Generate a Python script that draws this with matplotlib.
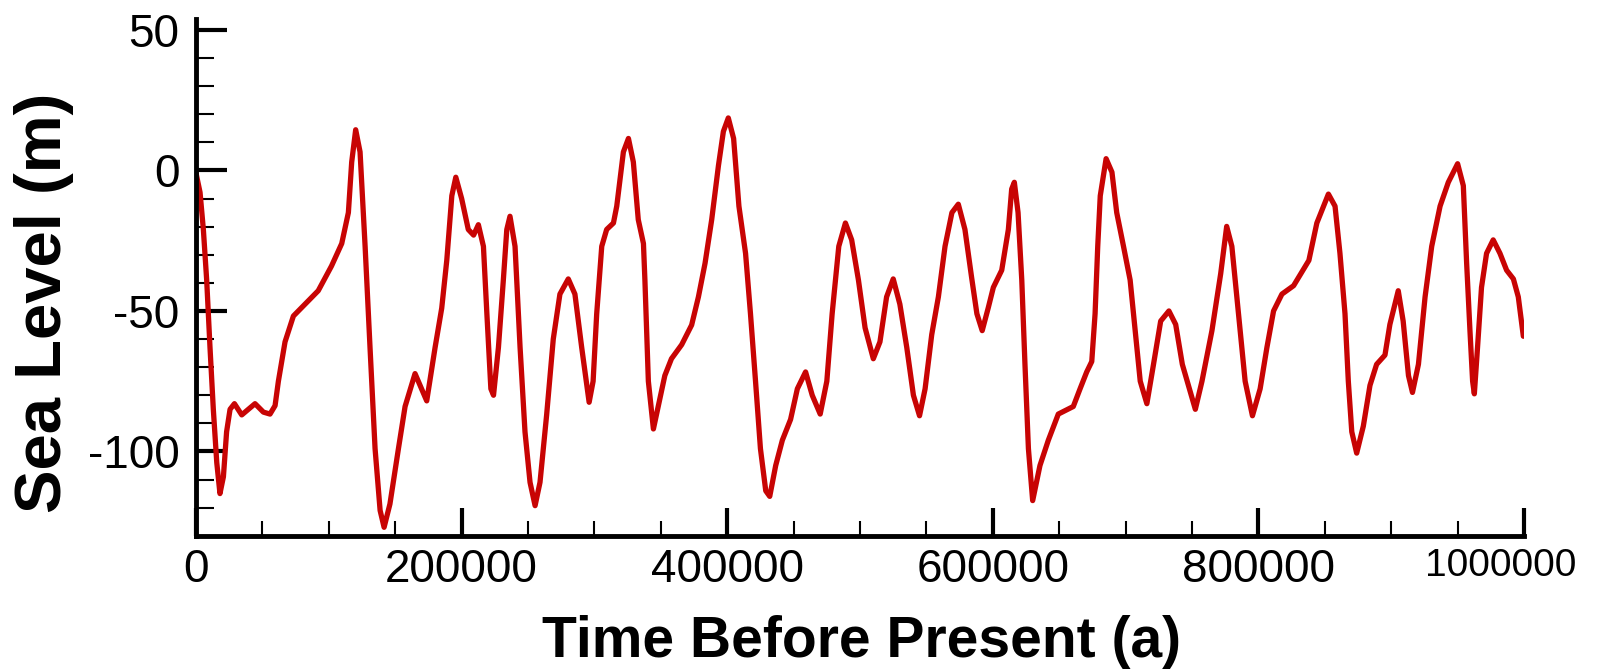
import matplotlib
matplotlib.use('Agg')
import matplotlib.pyplot as plt
from matplotlib import font_manager
from matplotlib.ticker import MultipleLocator
from matplotlib.transforms import ScaledTranslation
import numpy as np

# time before present, thousands of years
t_ka = [0, 3, 5.5, 8, 10.5, 13, 15.6, 18, 20.6, 23, 25.6, 28.9, 34.4, 39.4, 44.4, 50.7,
        55.7, 59.5, 62, 67, 73.3, 82, 92, 102, 109.7, 114.7, 117.2, 120.2, 123.5, 127.3,
        131, 134.8, 138.6, 141.6, 146, 152.4, 157.4, 164.9, 173.7, 180, 185, 188.8, 192.6,
        195.6, 200, 205, 209, 212.6, 216.4, 219, 222, 224, 227.7, 231.4, 234, 236.4, 240.2,
        244, 247.7, 251.5, 255.3, 259, 264, 269, 274, 280.3, 285.3, 290.4, 296, 299, 301.7,
        305.5, 309.2, 314.3, 316.8, 321.8, 325.6, 329.3, 333, 336.9, 338, 340.6, 344.4, 348,
        353, 358, 365.7, 373.2, 378.3, 383.3, 388.3, 393.4, 397.1, 400.8, 404.8, 408.8,
        413.8, 417.5, 421.3, 425, 429, 432, 436.5, 441.5, 447.7, 452.8, 459, 464, 470, 475,
        479, 484, 489, 493.7, 498.8, 503.8, 510, 515, 520, 525, 530, 535.2, 540.2, 544.8,
        549, 554, 559, 564, 569.2, 574, 579, 584, 588, 592, 596.6, 600.4, 606.7, 611.7,
        614.2, 616.2, 619, 621.8, 624.2, 626.8, 630, 635.5, 641.8, 649.3, 654.4, 660.6,
        665.7, 670.7, 674.5, 677, 679, 680.9, 685.3, 689.7, 693.3, 698.4, 703.4, 707.2, 711,
        716, 721, 726.4, 732.6, 737.7, 742.7, 752.5, 757.5, 765, 771.6, 776.1, 780, 785, 790,
        795.5, 801.3, 806.4, 811.4, 817.7, 826.5, 838, 844, 852.7, 857.7, 861.4, 865.2,
        867.7, 870.3, 874, 879, 884, 889, 895.3, 899, 905.3, 909, 913, 916, 920.5, 925.5,
        930.5, 936.8, 943, 950, 954.3, 956.8, 959.3, 961.3, 962.6, 965, 968, 971.8, 976.8,
        981.9, 986.9, 992, 995.7, 999.5]

# sea level, metres
sea_level = [-1, -7.8, -21, -39, -63, -85, -104, -115, -109, -93, -85, -83, -87, -85, -83, -86,
             -86.7, -83.7, -75, -61, -51.8, -47.6, -42.8, -34, -26, -15, 3, 14.5, 6.6, -27,
             -63, -99, -121, -127, -118.7, -99, -84, -72.3, -82, -63, -49, -32, -9,
             -2.4, -10, -21, -23, -19.3, -27, -51, -77.7, -80, -63, -39, -21, -16.3, -27,
             -63, -93, -111, -119.3, -111, -87, -60, -44, -38.6, -44, -63, -82.5, -75, -51,
             -27, -21, -18.7, -12.7, 6.6, 11.4, 3, -17.5, -26, -39, -75, -92, -84,
             -73, -67, -62, -55, -45, -33, -17.5, 1.8, 13.9, 18.7, 11.4, -12.7,
             -29.5, -51, -75, -99, -114, -116, -105, -96, -88.6, -77.7, -71.7, -80, -86.7, -75,
             -51, -27, -18.7, -24.7, -39, -56, -67, -61, -45, -38.6, -47.6, -63, -80, -87.3,
             -77.7, -58.4, -45, -27, -15, -12, -21, -38, -51, -57, -48.8, -41.6, -35.5, -21,
             -6.6, -4.2, -15, -39, -69, -99, -117.5, -105, -96, -86.7, -85.5, -84,
             -77.7, -71.7, -68, -51, -27, -9, 4.2, -0.6, -15, -27, -39, -57, -75,
             -83, -69, -53.6, -50, -54.8, -69, -85, -75, -57, -36.7, -19.9, -27, -51, -75,
             -87.3, -77.7, -63, -50, -44, -41, -32, -18.7, -8.4, -12.7, -29.5, -51,
             -75, -93, -100.6, -91, -76.5, -69, -65.7, -54.8, -42.8, -53.6, -73, -79, -69, -45,
             -27, -12.7, -4.2, 2.4, -5.4, -33, -57, -75, -79.5, -63, -41.6, -29.5, -24.7,
             -29.5, -35.5, -38.6, -45, -59]

xticks = [0, 200000, 400000, 600000, 800000, 1000000]
xtick_labels = ['0', '200000', '400000', '600000', '800000', '1000000']
yticks = [-100, -50, 0, 50]

installed = {f.name for f in font_manager.fontManager.ttflist}
base = 'Liberation Sans' if 'Liberation Sans' in installed else 'DejaVu Sans'
narrow = 'Liberation Sans Narrow' if 'Liberation Sans Narrow' in installed else None
plt.rcParams['font.family'] = [base, 'DejaVu Sans']
plt.rcParams['axes.unicode_minus'] = False

fig = plt.figure(figsize=(16.11, 6.70), dpi=100)
ax = fig.add_axes([0.1217, 0.2004, 0.8243, 0.7716])

t = np.array(t_ka) * 1000
ax.plot(t, sea_level, color='#c80404', lw=3.8, solid_joinstyle='round', solid_capstyle='round')

ax.set_xlim(0, 1000000)
ax.set_ylim(-130, 54)
ax.spines['top'].set_visible(False)
ax.spines['right'].set_visible(False)
for s in ['left', 'bottom']:
    ax.spines[s].set_linewidth(3.5)
    ax.spines[s].set_capstyle('projecting')

ax.set_xticks(xticks)
ax.set_xticklabels(xtick_labels)
ax.set_yticks(yticks)
ax.xaxis.set_minor_locator(MultipleLocator(50000))
ax.yaxis.set_minor_locator(MultipleLocator(10))

ax.tick_params(axis='x', which='major', direction='in', length=20, width=3, labelsize=33, pad=9)
ax.tick_params(axis='x', which='minor', direction='in', length=11, width=1.5)
ax.tick_params(axis='y', which='major', direction='in', length=22, width=3, labelsize=33, pad=12)
ax.tick_params(axis='y', which='minor', direction='in', length=13, width=1.5)

# last x label sits a bit left of its tick and is set in a narrower face
last = ax.get_xticklabels()[-1]
if narrow:
    last.set_fontfamily(narrow)
else:
    last.set_fontsize(28)
last.set_transform(last.get_transform() + ScaledTranslation(-0.23, 0, fig.dpi_scale_trans))

fig.text(0.535, 0.02, 'Time Before Present (a)', ha='center', va='baseline',
         fontsize=41, fontweight='bold')
fig.text(0.0273, 0.548, 'Sea Level (m)', ha='center', va='center', rotation=90,
         fontsize=47, fontweight='bold')

fig.savefig('out.png', dpi=100)
